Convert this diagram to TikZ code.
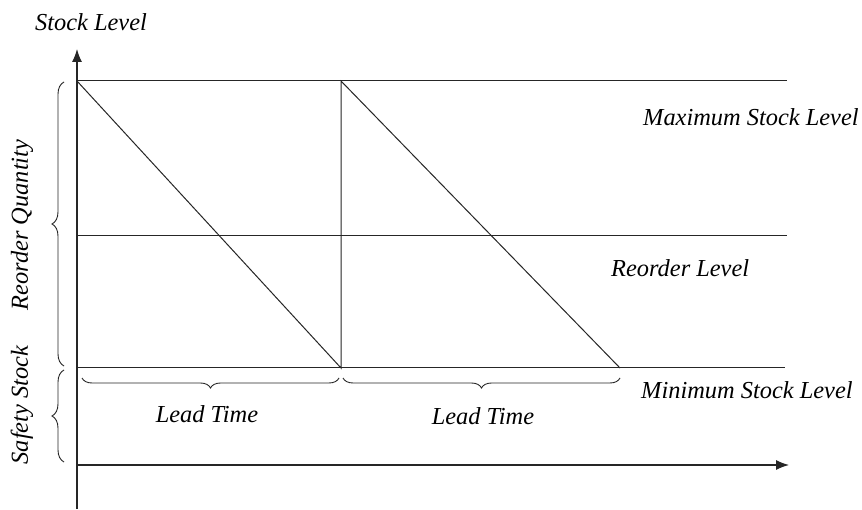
\documentclass[tikz,border=0pt]{standalone}
\usepackage{fontspec}
\setmainfont{Liberation Serif}
\usetikzlibrary{arrows.meta,decorations.pathreplacing}
\begin{document}
\begin{tikzpicture}[x=1pt,y=1pt,
  ln/.style={line width=1pt,draw=black!85},
  ax/.style={line width=1.2pt,draw=black!85,-{Latex[length=13pt,width=10pt]}},
  br/.style={line width=0.9pt,draw=black!85,decorate,decoration={brace,amplitude=#1}},
  lbl/.style={font=\fontsize{24.4}{28}\selectfont\itshape,inner sep=0pt,text=black}]
\useasboundingbox (0,0) rectangle (862,509);
\fill[white] (0,0) rectangle (862,509);
% coordinates
\coordinate (O) at (77,44);
\coordinate (Ytop) at (77,460);
\coordinate (Xend) at (789,44);
\coordinate (maxL) at (77,428);
\coordinate (maxR) at (787,428);
\coordinate (reoL) at (77,273);
\coordinate (reoR) at (787,273);
\coordinate (minL) at (77,141);
\coordinate (minR) at (785,141);
\coordinate (A) at (341,428);
\coordinate (B) at (341,141);
\coordinate (C) at (620,141);
% axes
\draw[ax] (77,0) -- (Ytop);
\draw[ax] (O) -- (Xend);
% levels
\draw[ln] (maxL) -- (maxR);
\draw[ln] (reoL) -- (reoR);
\draw[ln] (minL) -- (minR);
% saw-tooth
\draw[ln] (maxL) -- (B) -- (A) -- (C);
% braces
\draw[br=10pt] (339,131) -- (82,131);
\draw[br=10pt] (620,131) -- (343,131);
\draw[br=12pt] (64,143) -- (64,427);
\draw[br=12pt] (64,47) -- (64,139);
% labels
\node[lbl] (sl) at (91,487) {Stock Level};
\node[lbl,anchor=west] (mx) at (643,392) {Maximum Stock Level};
\node[lbl,anchor=west] (rl) at (611,241) {Reorder Level};
\node[lbl,anchor=west] (mn) at (641,119) {Minimum Stock Level};
\node[lbl] (lt1) at (207,95) {Lead Time};
\node[lbl] (lt2) at (483,93) {Lead Time};
\node[lbl,rotate=90] (rq) at (22,284) {Reorder Quantity};
\node[lbl,rotate=90] (ss) at (22,104) {Safety Stock};
\end{tikzpicture}
\end{document}
